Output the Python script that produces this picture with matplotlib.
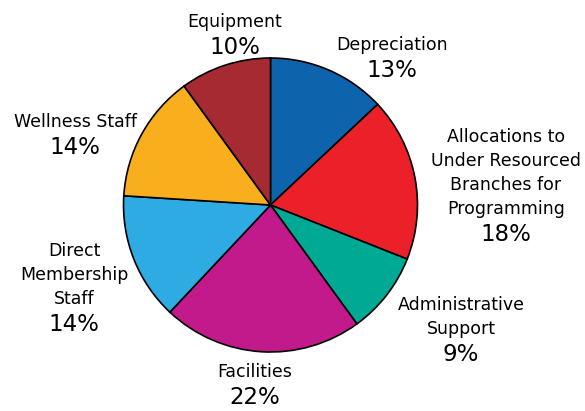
import matplotlib
matplotlib.use("Agg")
import matplotlib.pyplot as plt

# slice data, clockwise from 12 o'clock
labels = ["Depreciation", "Allocations to\nUnder Resourced\nBranches for\nProgramming",
          "Administrative\nSupport", "Facilities", "Direct\nMembership\nStaff",
          "Wellness Staff", "Equipment"]
shares = [13, 18, 9, 22, 14, 14, 10]
colors = ["#0e63ad", "#ec2029", "#00a994", "#c2198b", "#2eabe2", "#f8ae1d", "#a62a32"]

# label anchors in pixels: x centre, baseline of the last name line (y from top)
label_pos = [(392, 50), (506, 214), (461, 334), (255, 377), (74, 304), (75, 127), (235, 27)]
LINE = 24      # px between name lines
PCT_GAP = 27   # px from last name baseline to percent baseline

W, H = 585, 411
fig = plt.figure(figsize=(W / 100, H / 100), dpi=100)
ax = fig.add_axes([0, 0, 1, 1])

ax.pie(shares, colors=colors, startangle=90, counterclock=False,
       center=(270.5, H - 205), radius=147,
       wedgeprops=dict(edgecolor="black", linewidth=1.2))
ax.set_xlim(0, W); ax.set_ylim(0, H)
ax.set_aspect("equal")
ax.axis("off")

for lab, val, (x, y) in zip(labels, shares, label_pos):
    lines = lab.split("\n")
    for i, ln in enumerate(lines):
        yy = y - (len(lines) - 1 - i) * LINE
        ax.text(x, H - yy, ln, ha="center", va="baseline", fontsize=12.5,
                family="DejaVu Sans")
    ax.text(x, H - y - PCT_GAP, f"{val}%", ha="center", va="baseline",
            fontsize=16.5, family="DejaVu Sans")

fig.savefig("out.png", dpi=100)
